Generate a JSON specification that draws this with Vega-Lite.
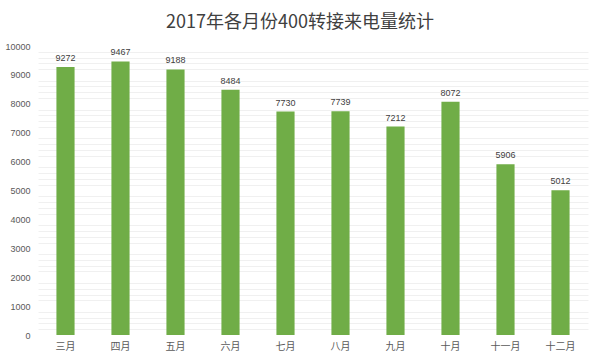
{
  "$schema": "https://vega.github.io/schema/vega-lite/v6.json",
  "autosize": "none",
  "width": 550,
  "height": 289,
  "padding": {"left": 38, "top": 46, "right": 12, "bottom": 25},
  "background": "white",
  "config": {"view": {"stroke": null}, "font": "Noto Sans CJK SC"},
  "title": {
    "text": "2017年各月份400转接来电量统计",
    "fontSize": 18,
    "font": "Noto Sans CJK SC",
    "fontWeight": "normal",
    "color": "#404040",
    "anchor": "middle",
    "dx": -13,
    "offset": 10
  },
  "data": {
    "values": [
      {"month": "三月", "calls": 9272},
      {"month": "四月", "calls": 9467},
      {"month": "五月", "calls": 9188},
      {"month": "六月", "calls": 8484},
      {"month": "七月", "calls": 7730},
      {"month": "八月", "calls": 7739},
      {"month": "九月", "calls": 7212},
      {"month": "十月", "calls": 8072},
      {"month": "十一月", "calls": 5906},
      {"month": "十二月", "calls": 5012}
    ]
  },
  "encoding": {
    "x": {
      "field": "month",
      "type": "nominal",
      "sort": null,
      "scale": {"paddingInner": 0.67, "paddingOuter": 0.335},
      "axis": {
        "title": null,
        "labelAngle": 0,
        "domain": false,
        "ticks": false,
        "labelFontSize": 10,
        "labelColor": "#595959",
        "labelPadding": 6
      }
    },
    "y": {
      "field": "calls",
      "type": "quantitative",
      "scale": {"domain": [0, 10000]}
    }
  },
  "layer": [
    {
      "mark": {"type": "bar", "color": "#70AD47"},
      "encoding": {
        "y": {
          "field": "calls",
          "type": "quantitative",
          "scale": {"domain": [0, 10000]},
          "axis": {
            "orient": "left",
            "values": [200,400,600,800,1200,1400,1600,1800,2200,2400,2600,2800,3200,3400,3600,3800,4200,4400,4600,4800,5200,5400,5600,5800,6200,6400,6600,6800,7200,7400,7600,7800,8200,8400,8600,8800,9200,9400,9600,9800],
            "labels": false,
            "ticks": false,
            "domain": false,
            "title": null,
            "gridColor": "#f0f0f0",
            "gridWidth": 1
          }
        }
      }
    },
    {
      "mark": {"type": "text", "dy": -9, "fontSize": 9, "color": "#404040", "font": "Liberation Sans"},
      "encoding": {
        "y": {
          "field": "calls",
          "type": "quantitative",
          "scale": {"domain": [0, 10000]},
          "axis": {
            "orient": "left",
            "values": [0,1000,2000,3000,4000,5000,6000,7000,8000,9000,10000],
            "format": "d",
            "title": null,
            "ticks": false,
            "domain": false,
            "labelFontSize": 9,
            "labelFont": "Liberation Sans",
            "labelColor": "#595959",
            "labelPadding": 8,
            "gridColor": "#d9d9d9",
            "zindex": 0
          }
        },
        "text": {"field": "calls", "type": "quantitative", "format": "d"}
      }
    }
  ],
  "resolve": {"axis": {"y": "independent"}}
}
